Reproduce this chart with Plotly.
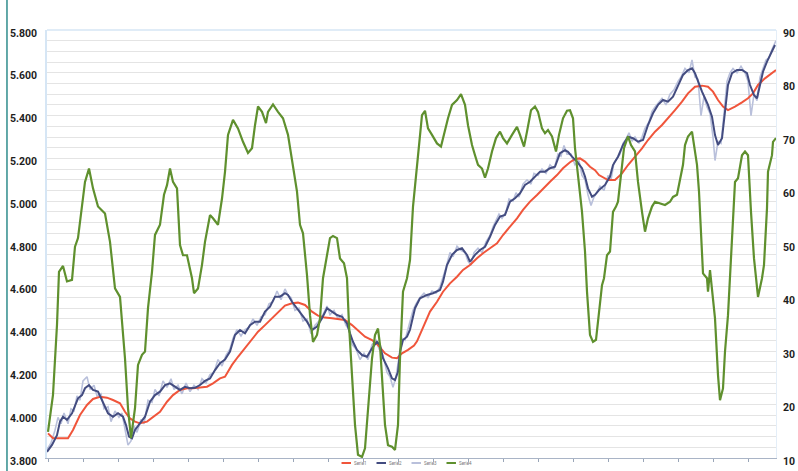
import plotly.graph_objects as go

# ---------------- data (day index, value) ----------------
# Serie1 - smooth moving average (left axis)
S1_DAY = [1, 6, 13, 21, 26, 33, 40, 46, 53, 60, 66, 73, 78, 83, 88, 93, 100, 106, 113, 120,
          126, 133, 140, 146, 153, 160, 166, 173, 178, 185, 191, 198, 205, 211, 218, 225, 231,
          238, 245, 251, 258, 265, 271, 278, 285, 291, 298, 305, 311, 318, 325, 331, 338, 345,
          350, 355, 361, 367, 370, 376, 383, 390, 396, 403, 410, 416, 423, 430, 436, 443, 450,
          456, 463, 470, 476, 483, 490, 496, 503, 510, 516, 523, 528, 533, 538, 543, 548, 552,
          555, 561, 568, 575, 581, 588, 595, 601, 608, 615, 621, 628, 635, 641, 648, 655, 661,
          666, 671, 676, 681, 688, 695, 701, 706, 711, 718, 725, 729]
S1_VAL = [3.915, 3.892, 3.892, 3.892, 3.931, 4.001, 4.048, 4.076, 4.086, 4.082, 4.071, 4.056,
          4.016, 3.985, 3.970, 3.962, 3.970, 3.993, 4.016, 4.063, 4.094, 4.118, 4.126, 4.126,
          4.128, 4.133, 4.149, 4.172, 4.180, 4.235, 4.273, 4.313, 4.351, 4.390, 4.421, 4.453,
          4.484, 4.512, 4.523, 4.526, 4.515, 4.484, 4.465, 4.456, 4.453, 4.450, 4.445, 4.421,
          4.398, 4.367, 4.351, 4.328, 4.289, 4.269, 4.266, 4.289, 4.305, 4.325, 4.345, 4.410,
          4.484, 4.530, 4.577, 4.616, 4.647, 4.679, 4.702, 4.733, 4.757, 4.780, 4.803, 4.842,
          4.881, 4.920, 4.959, 4.998, 5.029, 5.060, 5.091, 5.122, 5.154, 5.182, 5.197, 5.200,
          5.185, 5.161, 5.145, 5.122, 5.115, 5.099, 5.099, 5.130, 5.169, 5.208, 5.247, 5.286,
          5.325, 5.356, 5.387, 5.426, 5.465, 5.504, 5.535, 5.540, 5.535, 5.512, 5.473, 5.442,
          5.426, 5.442, 5.462, 5.481, 5.504, 5.543, 5.574, 5.598, 5.613]

# Serie2 - short moving average (left axis)
S2_DAY = [0, 5, 10, 13, 16, 20, 25, 28, 31, 35, 38, 42, 46, 51, 56, 61, 66, 71, 76, 79, 82, 85,
          88, 93, 98, 103, 108, 113, 118, 123, 128, 133, 138, 143, 148, 153, 158, 163, 168, 173,
          178, 183, 188, 193, 198, 203, 208, 213, 218, 223, 228, 233, 238, 241, 245, 250, 255,
          260, 265, 270, 275, 280, 285, 290, 295, 300, 303, 306, 310, 315, 320, 325, 330, 333,
          336, 341, 345, 348, 351, 353, 356, 360, 363, 368, 373, 380, 386, 393, 396, 400, 405,
          410, 415, 420, 423, 428, 433, 438, 443, 448, 453, 458, 463, 468, 473, 478, 483, 488,
          493, 498, 503, 508, 513, 518, 521, 525, 530, 535, 538, 541, 545, 548, 552, 558, 563,
          566, 571, 576, 581, 586, 591, 596, 601, 606, 611, 616, 621, 626, 631, 636, 641, 645,
          648, 651, 655, 658, 661, 665, 668, 671, 675, 678, 681, 685, 690, 695, 700, 703, 707,
          710, 713, 716, 720, 723, 728]
S2_VAL = [3.829, 3.861, 3.907, 3.970, 3.993, 3.978, 4.009, 4.048, 4.079, 4.094, 4.126, 4.141,
          4.118, 4.110, 4.063, 4.009, 3.993, 4.009, 3.993, 3.954, 3.900, 3.892, 3.931, 3.962,
          3.993, 4.063, 4.094, 4.110, 4.141, 4.149, 4.133, 4.118, 4.133, 4.126, 4.128, 4.141,
          4.160, 4.172, 4.211, 4.243, 4.260, 4.297, 4.375, 4.398, 4.383, 4.421, 4.437, 4.437,
          4.484, 4.507, 4.554, 4.554, 4.570, 4.562, 4.530, 4.500, 4.468, 4.437, 4.398, 4.414,
          4.453, 4.500, 4.484, 4.468, 4.460, 4.429, 4.383, 4.343, 4.305, 4.281, 4.273, 4.313,
          4.343, 4.328, 4.266, 4.219, 4.172, 4.164, 4.203, 4.297, 4.351, 4.367, 4.400, 4.500,
          4.546, 4.562, 4.570, 4.585, 4.624, 4.702, 4.749, 4.772, 4.780, 4.749, 4.717, 4.749,
          4.772, 4.787, 4.834, 4.889, 4.928, 4.936, 4.998, 5.014, 5.037, 5.076, 5.091, 5.115,
          5.138, 5.138, 5.154, 5.161, 5.224, 5.239, 5.231, 5.208, 5.185, 5.154, 5.115, 5.060,
          5.021, 5.030, 5.052, 5.076, 5.115, 5.169, 5.208, 5.263, 5.301, 5.294, 5.278, 5.286,
          5.356, 5.411, 5.450, 5.473, 5.465, 5.488, 5.543, 5.590, 5.613, 5.621, 5.598, 5.559,
          5.512, 5.481, 5.450, 5.395, 5.309, 5.263, 5.294, 5.418, 5.543, 5.598, 5.613, 5.613,
          5.598, 5.543, 5.496, 5.481, 5.551, 5.605, 5.652, 5.683, 5.730]

# Serie3 - raw series (left axis)
S3_DAY = [0, 4, 8, 11, 14, 17, 21, 24, 27, 30, 33, 36, 40, 43, 47, 50, 54, 57, 61, 64, 68, 72,
          75, 78, 81, 84, 87, 90, 94, 97, 101, 105, 108, 112, 116, 120, 124, 127, 131, 135, 139,
          143, 147, 151, 155, 159, 163, 167, 171, 175, 179, 183, 186, 190, 194, 198, 202, 206,
          210, 214, 218, 222, 226, 230, 234, 238, 241, 244, 248, 252, 256, 260, 264, 268, 272,
          276, 280, 283, 287, 291, 295, 299, 302, 305, 309, 313, 317, 321, 325, 329, 332, 336,
          340, 343, 346, 349, 352, 355, 358, 362, 366, 369, 373, 377, 381, 385, 389, 393, 396,
          399, 403, 406, 410, 414, 418, 421, 424, 427, 431, 435, 439, 443, 446, 449, 452, 455,
          459, 462, 466, 469, 472, 476, 480, 484, 487, 491, 495, 499, 503, 507, 511, 514, 517,
          520, 524, 528, 532, 535, 538, 541, 544, 547, 550, 553, 557, 561, 564, 567, 570, 573,
          576, 579, 582, 585, 588, 592, 595, 598, 602, 605, 608, 612, 615, 619, 623, 627, 631,
          634, 638, 642, 645, 648, 651, 654, 657, 660, 663, 666, 668, 671, 674, 677, 680, 683,
          686, 690, 694, 698, 701, 704, 707, 710, 713, 716, 719, 722, 725, 729]
S3_VAL = [3.84, 3.87, 3.93, 3.99, 3.96, 4.01, 3.96, 4.03, 4.02, 4.09, 4.07, 4.16, 4.18, 4.12,
          4.14, 4.09, 4.10, 4.03, 4.04, 3.97, 4.02, 3.99, 4.01, 3.93, 3.86, 3.88, 3.95, 3.92,
          3.98, 3.96, 4.07, 4.06, 4.12, 4.09, 4.16, 4.13, 4.17, 4.12, 4.14, 4.10, 4.15, 4.11,
          4.14, 4.12, 4.17, 4.15, 4.19, 4.20, 4.26, 4.23, 4.28, 4.31, 4.36, 4.40, 4.37, 4.40,
          4.41, 4.45, 4.42, 4.46, 4.47, 4.52, 4.53, 4.58, 4.54, 4.59, 4.56, 4.55, 4.49, 4.50,
          4.44, 4.45, 4.38, 4.42, 4.44, 4.47, 4.51, 4.47, 4.49, 4.45, 4.47, 4.42, 4.40, 4.33,
          4.31, 4.26, 4.29, 4.26, 4.33, 4.35, 4.31, 4.28, 4.20, 4.18, 4.13, 4.18, 4.27, 4.36,
          4.35, 4.42, 4.49, 4.52, 4.55, 4.57, 4.55, 4.58, 4.57, 4.60, 4.64, 4.69, 4.76, 4.74,
          4.79, 4.77, 4.76, 4.72, 4.70, 4.76, 4.78, 4.76, 4.81, 4.84, 4.88, 4.91, 4.94, 4.92,
          4.95, 5.01, 5.00, 5.04, 5.02, 5.08, 5.10, 5.08, 5.13, 5.12, 5.15, 5.13, 5.17, 5.15,
          5.22, 5.21, 5.26, 5.22, 5.22, 5.17, 5.19, 5.12, 5.10, 5.03, 4.98, 5.02, 5.04, 5.07,
          5.05, 5.12, 5.10, 5.18, 5.20, 5.22, 5.27, 5.29, 5.32, 5.28, 5.30, 5.27, 5.30, 5.34,
          5.37, 5.42, 5.44, 5.46, 5.48, 5.45, 5.50, 5.52, 5.56, 5.58, 5.62, 5.60, 5.66, 5.58,
          5.57, 5.40, 5.49, 5.44, 5.41, 5.30, 5.19, 5.28, 5.27, 5.41, 5.56, 5.60, 5.62, 5.60,
          5.63, 5.60, 5.56, 5.40, 5.50, 5.47, 5.58, 5.62, 5.66, 5.67, 5.71, 5.75]

# Serie4 - oscillator (right axis)
S4_DAY = [1, 6, 10, 12, 16, 20, 25, 28, 31, 35, 38, 42, 46, 51, 58, 63, 68, 73, 78, 81, 84, 88,
          91, 95, 98, 101, 105, 108, 113, 117, 120, 123, 126, 130, 133, 136, 140, 145, 147, 151,
          155, 158, 163, 166, 171, 175, 178, 181, 183, 186, 191, 196, 201, 205, 208, 211, 215,
          219, 221, 226, 231, 236, 241, 245, 250, 253, 256, 260, 263, 266, 270, 273, 276, 280,
          283, 286, 290, 293, 297, 300, 302, 305, 308, 311, 315, 318, 321, 325, 328, 331, 333,
          335, 338, 341, 345, 348, 351, 353, 356, 360, 363, 366, 371, 375, 378, 381, 385, 390,
          394, 398, 401, 405, 410, 414, 418, 421, 425, 428, 431, 435, 438, 441, 445, 449, 453,
          456, 460, 465, 470, 473, 477, 480, 484, 488, 491, 495, 498, 501, 505, 509, 512, 516,
          520, 523, 526, 528, 531, 535, 538, 540, 543, 546, 549, 552, 555, 557, 560, 563, 566,
          569, 571, 574, 577, 581, 584, 588, 591, 595, 598, 601, 605, 608, 613, 618, 623, 626,
          630, 633, 636, 638, 641, 645, 647, 650, 652, 655, 656, 660, 661, 663, 665, 668, 671,
          673, 676, 678, 681, 683, 685, 688, 691, 695, 698, 701, 704, 707, 711, 715, 717, 720,
          721, 725, 726, 729]
S4_VAL = [14.9, 21.8, 34.9, 44.8, 45.9, 43.0, 43.3, 49.5, 51.1, 57.3, 61.6, 64.1, 60.4, 57.0,
          55.7, 50.4, 41.7, 40.1, 28.6, 19.3, 13.7, 19.3, 27.4, 29.3, 29.9, 38.0, 44.8, 51.7,
          53.6, 59.2, 61.0, 64.1, 61.6, 60.4, 49.8, 47.9, 47.9, 43.6, 40.8, 41.7, 46.1, 50.4,
          55.4, 54.8, 53.6, 58.5, 63.5, 70.4, 71.6, 73.2, 71.6, 69.1, 67.0, 67.9, 72.2, 75.7,
          74.7, 72.6, 74.7, 76.1, 74.7, 73.5, 70.4, 66.0, 59.8, 53.6, 52.0, 44.2, 36.7, 31.7,
          33.0, 36.1, 43.6, 47.9, 51.1, 51.5, 51.1, 47.3, 46.4, 43.6, 34.9, 25.5, 16.2, 10.6,
          10.2, 11.8, 19.3, 28.6, 33.0, 34.2, 31.1, 25.5, 16.2, 12.4, 12.1, 11.5, 16.2, 28.6,
          41.1, 43.6, 47.0, 57.0, 66.0, 74.1, 74.9, 71.6, 70.4, 68.8, 68.2, 71.6, 73.5, 76.0,
          76.9, 78.0, 76.0, 72.2, 68.5, 66.6, 64.8, 64.1, 62.4, 64.1, 67.3, 69.8, 71.0, 69.8,
          68.8, 70.4, 71.9, 70.4, 68.2, 71.0, 75.0, 75.7, 74.7, 71.6, 70.7, 71.3, 70.1, 67.3,
          70.4, 73.5, 74.9, 75.0, 73.5, 67.9, 62.9, 56.0, 48.6, 41.1, 33.0, 31.7, 32.1, 37.5,
          42.3, 43.6, 47.9, 48.6, 56.0, 57.0, 57.9, 62.9, 67.9, 70.1, 68.5, 67.3, 61.6, 56.0,
          52.3, 54.8, 57.0, 57.9, 57.6, 57.3, 57.9, 58.8, 59.2, 62.3, 64.8, 68.5, 70.1, 71.0,
          68.5, 64.8, 59.8, 47.3, 44.5, 43.6, 41.1, 45.1, 41.1, 36.1, 25.5, 20.8, 23.0, 29.9,
          36.7, 43.6, 52.3, 61.6, 62.3, 66.6, 67.3, 66.6, 56.0, 47.3, 40.1, 43.6, 46.1, 56.7,
          63.5, 66.6, 69.1, 69.8]

SERIES_NAMES = ["Serie1", "Serie2", "Serie3", "Serie4"]
SERIES_COLORS = ["#F0553B", "#434C80", "#B9C0DB", "#5F902E"]
LEFT_TICKS = [3.8, 4.0, 4.2, 4.4, 4.6, 4.8, 5.0, 5.2, 5.4, 5.6, 5.8]
RIGHT_TICKS = [10, 20, 30, 40, 50, 60, 70, 80, 90]

# ---------------- figure ----------------
fig = go.Figure()
fig.add_trace(go.Scatter(x=S3_DAY, y=S3_VAL, name=SERIES_NAMES[2], mode="lines",
                         line=dict(color=SERIES_COLORS[2], width=1.6)))
fig.add_trace(go.Scatter(x=S1_DAY, y=S1_VAL, name=SERIES_NAMES[0], mode="lines",
                         line=dict(color=SERIES_COLORS[0], width=2)))
fig.add_trace(go.Scatter(x=S2_DAY, y=S2_VAL, name=SERIES_NAMES[1], mode="lines",
                         line=dict(color=SERIES_COLORS[1], width=2)))
fig.add_trace(go.Scatter(x=S4_DAY, y=S4_VAL, name=SERIES_NAMES[3], mode="lines", yaxis="y2",
                         line=dict(color=SERIES_COLORS[3], width=2.2)))

tickfont = dict(family="Roboto, Arial, sans-serif", size=10.5, color="#1E1E1E", weight="bold")

fig.update_layout(
    width=798, height=471,
    margin=dict(l=47, r=22, t=30, b=13, autoexpand=False),
    paper_bgcolor="white", plot_bgcolor="white",
    showlegend=False,
    xaxis=dict(range=[0, 729], showgrid=False, zeroline=False, showticklabels=False,
               ticks="outside", tick0=1, dtick=35, ticklen=3, tickcolor="#9AA6B8",
               showline=True, linecolor="#A9B4C6", linewidth=1),
    yaxis=dict(range=[3.8, 5.8], tickmode="array", tickvals=LEFT_TICKS, tickformat=".3f",
               showgrid=True, gridcolor="#E4E4E4", gridwidth=1, zeroline=False,
               minor=dict(dtick=0.05, tick0=3.8, showgrid=True, gridcolor="#E4E4E4", gridwidth=1),
               ticks="", showline=True, linecolor="#D6E6F5", linewidth=1.5,
               tickfont=tickfont, ticklabelstandoff=6, ticklabelshift=3),
    yaxis2=dict(range=[10, 90], tickmode="array", tickvals=RIGHT_TICKS, overlaying="y",
                side="right", showgrid=False, zeroline=False, ticks="",
                showline=True, linecolor="#E4EEF8", linewidth=1,
                tickfont=tickfont, ticklabelstandoff=4, ticklabelshift=3),
)

# top border of plot area (light blue) and teal page edge line
fig.add_shape(type="line", xref="paper", yref="paper", x0=0, x1=1, y0=1, y1=1,
              line=dict(color="#D6E6F5", width=1.5))
fig.add_shape(type="line", xref="paper", yref="paper", x0=-0.0549, x1=-0.0549,
              y0=-0.05, y1=1.09, line=dict(color="#2F8C8C", width=1.5))

# compact legend below the plot (tiny, like the original)
for i, (nm, col) in enumerate(zip(SERIES_NAMES, SERIES_COLORS)):
    x0 = 0.404 + i * 0.048
    fig.add_shape(type="line", xref="paper", yref="paper", x0=x0, x1=x0 + 0.013,
                  y0=-0.0117, y1=-0.0117, line=dict(color=col, width=2))
    fig.add_annotation(xref="paper", yref="paper", x=x0 + 0.015, y=-0.0117, text=nm,
                       showarrow=False, xanchor="left", yanchor="middle",
                       font=dict(size=4.5, color="#777777", family="Roboto, Arial, sans-serif"))

# remove the browser's default body margin so the figure sits at the page origin
fig.write_html("out.html", config={"displayModeBar": False},
               post_script="document.body.style.margin='0';document.body.style.overflow='hidden';")
